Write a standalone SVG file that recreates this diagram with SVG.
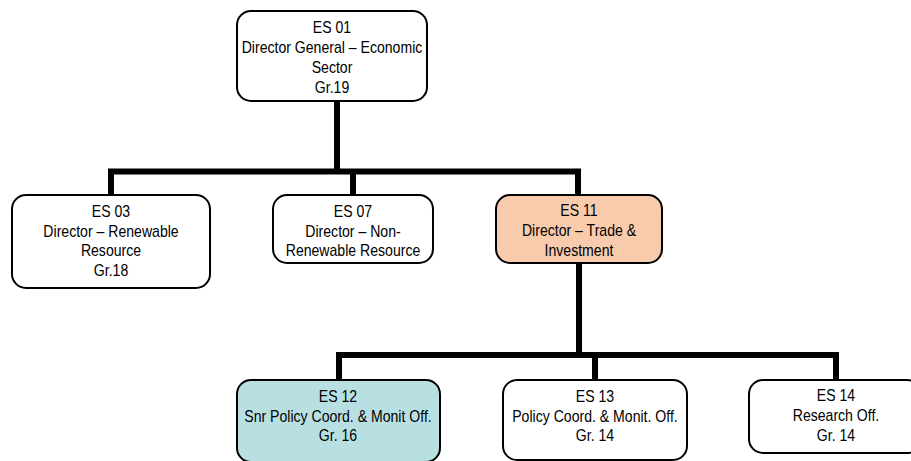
<svg xmlns="http://www.w3.org/2000/svg" width="911" height="461" viewBox="0 0 911 461">
<style>
.box{stroke:#000;stroke-width:2;fill:#fff}
.peach{fill:#F8CBAD}
.teal{fill:#B8E0E3}
.conn{stroke:#000;stroke-width:6;fill:none;stroke-linecap:butt}
text{font-family:"Liberation Sans",Arial,sans-serif;font-size:16px;fill:#000;text-anchor:middle}
</style>
<rect width="911" height="461" fill="#fff"/>
<g id="connectors">
<path class="conn" d="M337 101V171.5M108 171.5H581M111 171.5V195M353 171.5V195M578 171.5V195"/>
<path class="conn" d="M579 263V355M336 355H839M339 355V380M595 355V380M836 355V380"/>
</g>
<g id="es01">
<rect class="box" x="237" y="11" width="190" height="90" rx="14"/>
<g transform="translate(332 0) scale(0.88 1)">
<text x="0" y="33">ES 01</text>
<text x="0" y="53">Director General – Economic</text>
<text x="0" y="73">Sector</text>
<text x="0" y="93">Gr.19</text>
</g>
</g>
<g id="es03">
<rect class="box" x="12" y="195" width="198" height="93" rx="14"/>
<g transform="translate(111 0) scale(0.88 1)">
<text x="0" y="217">ES 03</text>
<text x="0" y="237">Director – Renewable</text>
<text x="0" y="256">Resource</text>
<text x="0" y="276">Gr.18</text>
</g>
</g>
<g id="es07">
<rect class="box" x="273" y="195" width="160" height="68" rx="14"/>
<g transform="translate(353 0) scale(0.88 1)">
<text x="0" y="217">ES 07</text>
<text x="0" y="237">Director – Non-</text>
<text x="0" y="256">Renewable Resource</text>
</g>
</g>
<g id="es11">
<rect class="box peach" x="496" y="195" width="166" height="68" rx="14"/>
<g transform="translate(579 0) scale(0.88 1)">
<text x="0" y="216">ES 11</text>
<text x="0" y="236">Director – Trade &amp;</text>
<text x="0" y="256">Investment</text>
</g>
</g>
<g id="es12">
<rect class="box teal" x="237" y="380" width="203" height="82" rx="14"/>
<g transform="translate(338 0) scale(0.88 1)">
<text x="0" y="402">ES 12</text>
<text x="0" y="422">Snr Policy Coord. &amp; Monit Off.</text>
<text x="0" y="441">Gr. 16</text>
</g>
</g>
<g id="es13">
<rect class="box" x="503" y="380" width="184" height="80" rx="14"/>
<g transform="translate(595 0) scale(0.88 1)">
<text x="0" y="402">ES 13</text>
<text x="0" y="422">Policy Coord. &amp; Monit. Off.</text>
<text x="0" y="441">Gr. 14</text>
</g>
</g>
<g id="es14">
<rect class="box" x="749" y="380" width="172" height="73" rx="14"/>
<g transform="translate(836 0) scale(0.88 1)">
<text x="0" y="401">ES 14</text>
<text x="0" y="421">Research Off.</text>
<text x="0" y="441">Gr. 14</text>
</g>
</g>
</svg>
